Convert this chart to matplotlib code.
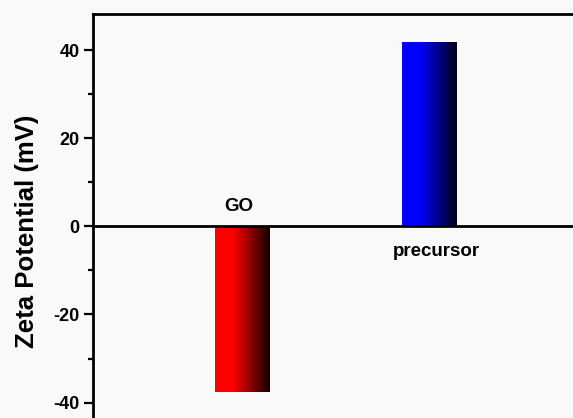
import numpy as np
import matplotlib
matplotlib.use("Agg")
import matplotlib.pyplot as plt
from matplotlib.colors import LinearSegmentedColormap
from matplotlib.ticker import MultipleLocator

# ---- data ----
samples = ["GO", "precursor"]
zeta_mv = [-37.6, 41.7]
bar_colors = [("#ff0000", "#120000"), ("#0000ff", "#000014")]

plt.rcParams["font.family"] = ["Liberation Sans", "DejaVu Sans"]
plt.rcParams["font.weight"] = "bold"
plt.rcParams["axes.unicode_minus"] = False

fig = plt.figure(figsize=(5.73, 4.18), dpi=100, facecolor="#f9f9f9")
ax = fig.add_axes([93 / 573, 0.0, 1 - 93 / 573, 1 - 14 / 418])
ax.set_facecolor("#f9f9f9")

xs = np.arange(len(samples))
width = 0.293
bars = ax.bar(xs, zeta_mv, width=width, color="none", edgecolor="none")

# horizontal gradient fill for each bar (solid on the left, fading to black)
grad = np.linspace(0, 1, 256).reshape(1, -1)
for b, (c0, c1) in zip(bars, bar_colors):
    cmap = LinearSegmentedColormap.from_list("g", [(0, c0), (0.32, c0), (1, c1)])
    x0, y0 = b.get_x(), b.get_y()
    x1, y1 = x0 + b.get_width(), y0 + b.get_height()
    ax.imshow(grad, cmap=cmap, aspect="auto", extent=(x0, x1, min(y0, y1), max(y0, y1)),
              zorder=2, interpolation="bilinear")

# labels
ax.text(xs[0] - 0.02, 4.6, samples[0], ha="center", va="center", fontsize=13.5, fontweight="bold")
ax.text(xs[1] + 0.035, -5.6, samples[1], ha="center", va="center", fontsize=13.5, fontweight="bold")

ax.set_xlim(-0.795, 1.765)
ax.set_ylim(-43.5, 48.2)

ax.spines["right"].set_visible(False)
ax.spines["bottom"].set_position(("data", 0))
for s in ["left", "top", "bottom"]:
    ax.spines[s].set_linewidth(2.0)
    ax.spines[s].set_zorder(3)

ax.set_xticks([])
ax.yaxis.set_major_locator(MultipleLocator(20))
ax.yaxis.set_minor_locator(MultipleLocator(10))
ax.tick_params(axis="y", which="major", direction="out", length=6.5, width=1.6, labelsize=13, pad=3)
ax.tick_params(axis="y", which="minor", direction="out", length=3.5, width=1.6)
for lab in ax.get_yticklabels():
    lab.set_fontweight("bold")

ax.set_ylabel("Zeta Potential (mV)", fontsize=18.5, fontweight="bold")
ax.yaxis.set_label_coords(-0.112, 0.4616)

fig.savefig("out.png", dpi=100, facecolor=fig.get_facecolor())
